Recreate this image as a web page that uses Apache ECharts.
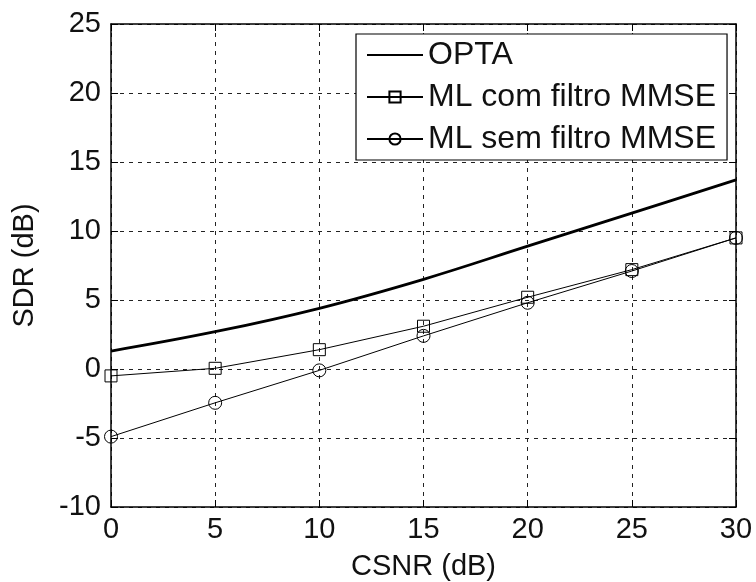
<!DOCTYPE html>
<html><head><meta charset="utf-8">
<script src="https://cdn.jsdelivr.net/npm/echarts@6/dist/echarts.min.js"></script>
<style>html,body{margin:0;padding:0;background:#fff}#c{width:756px;height:582px}</style>
</head><body><div id="c"></div>
<script>
const csnr = [0, 5, 10, 15, 20, 25, 30];
const opta = [1.3, 2.7, 4.4, 6.5, 8.9, 11.3, 13.7];
const mlCom = [-0.5, 0.05, 1.4, 3.1, 5.2, 7.2, 9.5];
const mlSem = [-4.9, -2.45, -0.1, 2.4, 4.8, 7.1, 9.5];
const xTicks = [0, 5, 10, 15, 20, 25, 30];
const yTicks = [-10, -5, 0, 5, 10, 15, 20, 25];
const names = ['OPTA', 'ML com filtro MMSE', 'ML sem filtro MMSE'];

const pair = arr => csnr.map((x, i) => [x, arr[i]]);
const font = 'Liberation Sans, Arial, sans-serif';
const chart = echarts.init(document.getElementById('c'));
const dash = {type: [4, 5], color: '#222', width: 1};
const tick = {show: true, inside: true, length: 7, lineStyle: {color: '#000'}};
const axLine = {show: true, onZero: false, lineStyle: {color: '#000', width: 1.5}};
chart.setOption({
  animation: false,
  backgroundColor: '#fff',
  grid: {left: 111, top: 24, right: 20, bottom: 75, show: false, outerBoundsMode: 'none', containLabel: false},
  xAxis: [{
    type: 'value', min: 0, max: 30, interval: 5, position: 'bottom',
    name: 'CSNR (dB)', nameLocation: 'middle', nameGap: 45,
    nameTextStyle: {fontFamily: font, fontSize: 29, color: '#111'},
    axisLine: axLine, axisTick: tick,
    axisLabel: {fontFamily: font, fontSize: 29, color: '#111', margin: 8},
    splitLine: {show: true, lineStyle: dash}
  }, {
    type: 'value', min: 0, max: 30, interval: 5, position: 'top',
    axisLine: axLine, axisTick: tick,
    axisLabel: {show: false}, splitLine: {show: false}
  }],
  yAxis: [{
    type: 'value', min: -10, max: 25, interval: 5, position: 'left',
    name: 'SDR (dB)', nameLocation: 'middle', nameGap: 72, nameRotate: 90,
    nameTextStyle: {fontFamily: font, fontSize: 29, color: '#111'},
    axisLine: axLine, axisTick: tick,
    axisLabel: {fontFamily: font, fontSize: 29, color: '#111', margin: 10},
    splitLine: {show: true, lineStyle: dash}
  }, {
    type: 'value', min: -10, max: 25, interval: 5, position: 'right',
    axisLine: axLine, axisTick: tick,
    axisLabel: {show: false}, splitLine: {show: false}
  }],
  legend: {
    orient: 'vertical', left: 356, top: 34,
    padding: [5, 11, 5, 10], itemGap: 10,
    itemWidth: 56, itemHeight: 14,
    backgroundColor: '#fff', borderColor: '#000', borderWidth: 1.2,
    textStyle: {fontFamily: font, fontSize: 32, color: '#111'},
    data: [
      {name: names[0], itemStyle: {color: 'rgba(0,0,0,0)', borderWidth: 0, opacity: 0}},
      names[1], names[2]
    ]
  },
  series: [
    {name: names[0], type: 'line', data: pair(opta), smooth: 0.4, showSymbol: false, symbol: 'none',
     lineStyle: {color: '#000', width: 2.8}, itemStyle: {color: 'rgba(0,0,0,0)'}, z: 3},
    {name: names[1], type: 'line', data: pair(mlCom), symbol: 'rect', symbolSize: 12,
     lineStyle: {color: '#000', width: 1}, itemStyle: {color: 'rgba(0,0,0,0)', borderColor: '#000', borderWidth: 1}, z: 4},
    {name: names[2], type: 'line', data: pair(mlSem), symbol: 'circle', symbolSize: 13,
     lineStyle: {color: '#000', width: 1}, itemStyle: {color: 'rgba(0,0,0,0)', borderColor: '#000', borderWidth: 1}, z: 4}
  ]
});
</script></body></html>
